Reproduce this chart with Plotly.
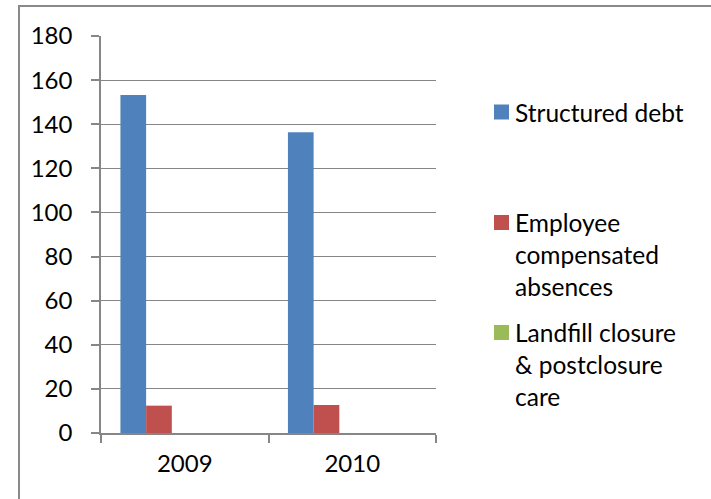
import plotly.graph_objects as go

years = ["2009", "2010"]
series_names = ["Structured debt", "Employee compensated absences", "Landfill closure & postclosure care"]
legend_labels = ["Structured debt", "Employee<br>compensated<br>absences", "Landfill closure<br>& postclosure<br>care"]
structured_debt = [153.2, 136.4]
employee_absences = [12.4, 12.7]
landfill_closure = [0.0, 0.0]
series_values = [structured_debt, employee_absences, landfill_closure]
colors = ["#4F81BD", "#C0504D", "#9BBB59"]
y_ticks = [0, 20, 40, 60, 80, 100, 120, 140, 160, 180]

W, H = 711, 499
L, R, T, B = 101, 436, 36, 433  # plot area pixel bounds


def px_x(p):
    return (p - L) / (R - L)


def px_y(p):
    return (B - p) / (B - T)


FONT = "Lato"
fig = go.Figure()
bar_w = 0.1534
offsets = [-0.384, -0.2306, -0.0772]
for name, vals, col, off in zip(series_names, series_values, colors, offsets):
    fig.add_trace(go.Bar(x=years, y=vals, name=name, marker=dict(color=col, line=dict(width=0)),
                         width=bar_w, offset=off, showlegend=False))

# custom legend (Excel-like placement)
legend_first_line_y = [112, 222.5, 332.5]
for lab, col, cy in zip(legend_labels, colors, legend_first_line_y):
    fig.add_shape(type="rect", xref="paper", yref="paper",
                  x0=px_x(494), x1=px_x(509), y0=px_y(cy + 7.5), y1=px_y(cy - 7.5),
                  fillcolor=col, line=dict(width=0))
    fig.add_annotation(xref="paper", yref="paper", x=px_x(513), y=px_y(cy - 16.5),
                       xanchor="left", yanchor="top", align="left", showarrow=False,
                       text=lab, font=dict(family=FONT, size=24.5, color="black"))

# outer chart border
fig.add_shape(type="rect", xref="paper", yref="paper",
              x0=px_x(19), x1=px_x(760), y0=px_y(560), y1=px_y(6),
              line=dict(color="#898989", width=2), fillcolor="rgba(0,0,0,0)", layer="below")

fig.update_layout(
    width=W, height=H,
    margin=dict(l=L, r=W - R, t=T, b=H - B, pad=0, autoexpand=False),
    paper_bgcolor="white", plot_bgcolor="white",
    barmode="overlay",
    font=dict(family=FONT, size=24, color="black"),
    showlegend=False,
)
fig.update_xaxes(type="category", range=[-0.5, 1.5], showline=True, linecolor="#868686", linewidth=1.5,
                 ticks="outside", tickson="boundaries", ticklen=8, tickcolor="#868686", tickwidth=1.5,
                 showgrid=False, ticklabelstandoff=8, automargin=False,
                 tickfont=dict(family=FONT, size=24, color="black"))
fig.update_yaxes(range=[0, 180], tickvals=y_ticks, showline=True, linecolor="#868686", linewidth=1.5,
                 ticks="outside", ticklen=8, tickcolor="#868686", tickwidth=1.5,
                 showgrid=True, gridcolor="#868686", gridwidth=1, zeroline=False, automargin=False,
                 ticklabelstandoff=14, tickfont=dict(family=FONT, size=24, color="black"))

fig.write_html("out.html", config={"displayModeBar": False},
               post_script="document.body.style.margin='0';document.body.style.overflow='hidden';")
